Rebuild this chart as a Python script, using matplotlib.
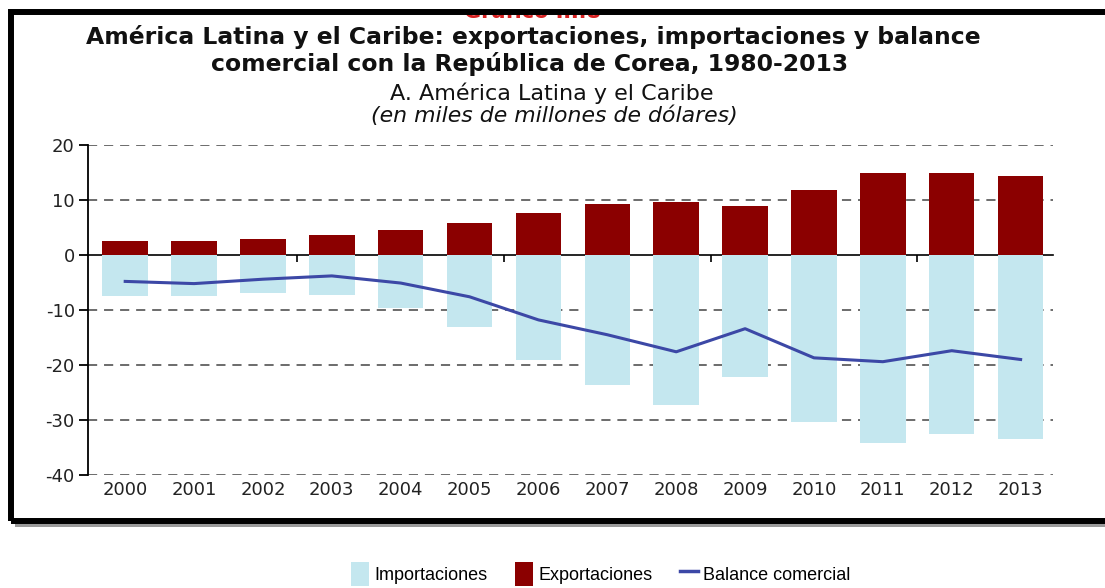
import matplotlib.pyplot as plt
from matplotlib.patches import Rectangle, Patch
from matplotlib.lines import Line2D

plt.rcParams["axes.unicode_minus"] = False

years = ["2000", "2001", "2002", "2003", "2004", "2005", "2006",
         "2007", "2008", "2009", "2010", "2011", "2012", "2013"]
exportaciones = [2.6, 2.6, 3.0, 3.6, 4.5, 5.8, 7.6, 9.3, 9.6, 8.9, 11.8, 15.0, 15.0, 14.3]
importaciones = [-7.5, -7.5, -6.9, -7.2, -9.7, -13.1, -19.1, -23.6, -27.3, -22.1, -30.3, -34.1, -32.5, -33.5]
balance = [-4.8, -5.2, -4.4, -3.8, -5.1, -7.6, -11.8, -14.5, -17.6, -13.4, -18.7, -19.4, -17.4, -19.0]
yticks = [-40, -30, -20, -10, 0, 10, 20]
sep_ticks = [2.5, 5.5, 8.5, 11.5]

c_exp = "#8b0000"
c_imp = "#c4e7ef"
c_bal = "#3c48a6"

W, H = 1105, 588
fig = plt.figure(figsize=(W / 100, H / 100), dpi=100)

# framed box with shadow
fig.add_artist(Rectangle((15 / W, 1 - 527 / H), 1.1, (527 - 16) / H, transform=fig.transFigure,
                         facecolor="#9a9a9a", edgecolor="none", zorder=-5))
fig.add_artist(Rectangle((11 / W, 1 - 521 / H), 1.1, (521 - 12) / H, transform=fig.transFigure,
                         facecolor="white", edgecolor="none", zorder=-4))
# red header, mostly hidden above the frame
fig.text(532 / W, 1 - 17.5 / H, "Gráfico III.8", color="#d62020", fontsize=15, fontweight="bold",
         ha="center", va="baseline", zorder=-3)
fig.add_artist(Rectangle((0, 1 - 13 / H), 1, 13 / H, transform=fig.transFigure,
                         facecolor="white", edgecolor="none", zorder=-2))
fig.add_artist(Rectangle((11 / W, 1 - 521 / H), 1.1, (521 - 12) / H, transform=fig.transFigure,
                         facecolor="none", edgecolor="black", lw=4.3, zorder=-1))

fig.text(533 / W, 1 - 37 / H, "América Latina y el Caribe: exportaciones, importaciones y balance",
         ha="center", va="center", fontsize=16.9, fontweight="bold", color="#111")
fig.text(530 / W, 1 - 64 / H, "comercial con la República de Corea, 1980-2013",
         ha="center", va="center", fontsize=16.9, fontweight="bold", color="#111")
fig.text(552 / W, 1 - 93 / H, "A. América Latina y el Caribe",
         ha="center", va="center", fontsize=16, color="#111")
fig.text(554 / W, 1 - 116 / H, "(en miles de millones de dólares)",
         ha="center", va="center", fontsize=15.8, style="italic", color="#111")

ax = fig.add_axes([88 / W, 1 - 475 / H, (1053 - 88) / W, 330 / H])
ax.set_facecolor("none")
x = list(range(len(years)))
ax.bar(x, importaciones, width=0.66, color=c_imp, zorder=2)
ax.bar(x, exportaciones, width=0.66, color=c_exp, zorder=2)
ax.plot(x, balance, color=c_bal, lw=2.2, zorder=4)

ax.set_xlim(-0.54, 13.47)
ax.set_ylim(-40, 20)
ax.set_yticks(yticks)
for t in yticks:
    if t != 0:
        ax.axhline(t, color="#444", lw=1.1, dashes=(6, 4.5), zorder=1)
ax.set_xticks(x)
ax.set_xticklabels(years)
ax.tick_params(axis="x", length=0, pad=4, labelsize=13, labelcolor="#222")
ax.tick_params(axis="y", length=6.5, width=1.3, pad=3, labelsize=13, labelcolor="#222")
for s in ["top", "right", "bottom"]:
    ax.spines[s].set_visible(False)
ax.spines["left"].set_linewidth(1.3)

# zero line with separator ticks
zero = ax.secondary_xaxis(40 / 60)
zero.set_alignment("bottom")
zero.set_xticks(sep_ticks)
zero.tick_params(length=5, width=1.2, labelbottom=False, labeltop=False)
zero.spines["bottom"].set_linewidth(1.2)
zero.spines["bottom"].set_zorder(5)

handles = [Patch(facecolor=c_imp, edgecolor="none"),
           Patch(facecolor=c_exp, edgecolor="none"),
           Line2D([], [], color=c_bal, lw=2.5)]
fig.legend(handles, ["Importaciones", "Exportaciones", "Balance comercial"],
           loc="center", bbox_to_anchor=(601 / W, 1 - 574 / H), ncol=3, frameon=False,
           prop={"family": "Liberation Sans", "size": 13},
           handlelength=1.0, handleheight=1.7, handletextpad=0.3, columnspacing=1.5)

fig.savefig("out.png", dpi=100)
